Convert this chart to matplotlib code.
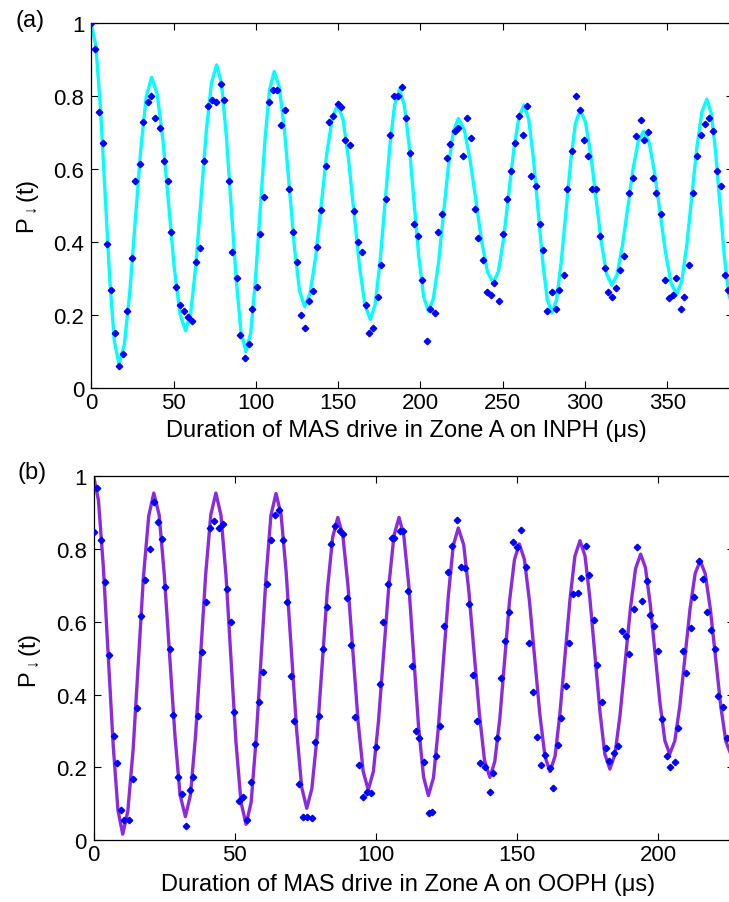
import matplotlib
matplotlib.use("Agg")
import matplotlib.pyplot as plt

plt.rcParams['font.family'] = ['Liberation Sans', 'DejaVu Sans']
plt.rcParams['mathtext.fontset'] = 'custom'
plt.rcParams['mathtext.rm'] = 'Liberation Sans'
plt.rcParams['mathtext.fallback'] = 'stixsans'

######
# measured points, panel (a) INPH
######
t_a = [0.0, 2.2, 4.7, 6.9, 9.7, 12.2, 14.6, 17.0, 19.5, 21.9, 24.7, 26.7, 29.4, 31.6, 34.2, 36.5,
       38.9, 41.9, 44.0, 46.6, 48.6, 51.3, 54.1, 56.1, 59.0, 61.0, 63.6, 66.3, 68.3, 71.1, 73.4,
       76.0, 78.6, 80.9, 83.5, 85.7, 88.3, 90.4, 93.2, 95.6, 97.9, 100.5, 102.7, 105.2, 108.0,
       110.2, 112.9, 115.1, 117.7, 120.4, 122.4, 125.2, 127.3, 129.9, 132.3, 134.8, 137.4, 139.8,
       142.5, 144.5, 147.1, 149.7, 152.0, 154.4, 157.0, 159.5, 161.9, 164.4, 166.8, 169.0, 171.4,
       174.5, 176.3, 178.9, 181.4, 183.8, 186.7, 188.7, 191.5, 193.5, 196.2, 198.4, 201.0, 203.9,
       205.9, 208.7, 210.8, 213.4, 216.2, 218.2, 220.9, 222.9, 225.8, 228.4, 230.6, 233.3, 235.3,
       238.1, 240.6, 243.0, 245.0, 247.6, 250.3, 252.5, 255.2, 257.8, 259.8, 262.5, 264.6, 267.5,
       270.1, 272.4, 274.8, 277.2, 279.8, 282.5, 284.5, 287.1, 289.4, 292.2, 294.8, 296.9, 299.5,
       301.8, 304.4, 306.6, 309.0, 312.1, 313.9, 316.5, 319.0, 321.6, 324.0, 326.5, 329.1, 330.9,
       333.8, 336.2, 338.6, 341.3, 343.5, 346.3, 348.8, 351.2, 353.6, 355.4, 358.3, 360.5, 363.1,
       365.6, 368.0, 370.5, 372.9, 375.4, 378.1, 380.3, 382.7, 385.1, 387.1]
p_a = [1.000, 0.930, 0.756, 0.672, 0.394, 0.268, 0.151, 0.060, 0.094, 0.211, 0.357, 0.568, 0.613,
       0.729, 0.783, 0.802, 0.741, 0.712, 0.622, 0.568, 0.429, 0.277, 0.228, 0.212, 0.194, 0.184,
       0.345, 0.385, 0.622, 0.774, 0.791, 0.783, 0.833, 0.791, 0.568, 0.374, 0.303, 0.144, 0.081,
       0.122, 0.218, 0.277, 0.421, 0.524, 0.783, 0.818, 0.818, 0.721, 0.761, 0.546, 0.429, 0.345,
       0.200, 0.165, 0.239, 0.266, 0.388, 0.489, 0.608, 0.729, 0.747, 0.778, 0.770, 0.679, 0.665,
       0.484, 0.401, 0.372, 0.228, 0.151, 0.165, 0.249, 0.338, 0.517, 0.694, 0.802, 0.802, 0.824,
       0.741, 0.644, 0.450, 0.416, 0.296, 0.129, 0.218, 0.206, 0.429, 0.477, 0.630, 0.670, 0.706,
       0.712, 0.636, 0.741, 0.685, 0.491, 0.412, 0.351, 0.262, 0.256, 0.288, 0.239, 0.421, 0.518,
       0.595, 0.672, 0.747, 0.694, 0.774, 0.582, 0.555, 0.450, 0.378, 0.211, 0.262, 0.218, 0.268,
       0.311, 0.546, 0.651, 0.802, 0.762, 0.679, 0.635, 0.546, 0.546, 0.416, 0.330, 0.262, 0.249,
       0.275, 0.324, 0.361, 0.534, 0.575, 0.692, 0.736, 0.679, 0.701, 0.575, 0.534, 0.477, 0.296,
       0.247, 0.256, 0.303, 0.218, 0.249, 0.338, 0.534, 0.635, 0.694, 0.725, 0.741, 0.706, 0.595,
       0.555, 0.311, 0.268]

# fitted curve (a)
fit_t_a = [0.0, 2.8, 5.6, 8.4, 11.2, 14.0, 16.8, 20.1, 23.4, 26.75, 30.1, 33.4, 36.7,
           40.1, 43.6, 47.0, 50.4, 53.9, 57.3, 60.45, 63.6, 66.75, 69.9, 73.05, 76.2,
           79.2, 82.1, 85.1, 88.1, 91.0, 94.0, 96.9, 99.7, 102.6, 105.5, 108.3, 111.2,
           114.3, 117.4, 120.45, 123.5, 126.6, 129.7, 133.0, 136.4, 139.7, 143.0, 146.4, 149.7,
           153.0, 156.3, 159.65, 163.0, 166.3, 169.6, 172.55, 175.5, 178.45, 181.4, 184.35, 187.3,
           190.2, 193.2, 196.1, 199.0, 202.0, 204.9, 207.9, 211.0, 214.0, 217.0, 220.1, 223.1,
           226.65, 230.2, 233.75, 237.3, 240.85, 244.4, 247.5, 250.6, 253.7, 256.8, 259.9, 263.0,
           265.8, 268.6, 271.45, 274.3, 277.1, 279.9, 282.8, 285.6, 288.5, 291.4, 294.2, 297.1,
           300.3, 303.5, 306.7, 309.9, 313.1, 316.3, 319.5, 322.7, 326.0, 329.2, 332.4, 335.6,
           339.0, 342.3, 345.7, 349.1, 352.4, 355.8, 358.85, 361.9, 364.95, 368.0, 371.05, 374.1,
           376.75, 379.4, 382.05, 384.7, 387.35, 390.0]
fit_p_a = [1.000, 0.937, 0.767, 0.533, 0.300, 0.129, 0.066, 0.119, 0.262, 0.459, 0.655, 0.799, 0.852,
           0.805, 0.678, 0.505, 0.331, 0.204, 0.157, 0.206, 0.339, 0.522, 0.704, 0.837, 0.886,
           0.833, 0.690, 0.493, 0.297, 0.153, 0.100, 0.151, 0.292, 0.484, 0.676, 0.817, 0.868,
           0.825, 0.707, 0.546, 0.384, 0.266, 0.223, 0.260, 0.361, 0.500, 0.638, 0.739, 0.776,
           0.737, 0.629, 0.482, 0.335, 0.227, 0.188, 0.230, 0.346, 0.503, 0.661, 0.776, 0.818,
           0.777, 0.666, 0.514, 0.362, 0.251, 0.210, 0.245, 0.342, 0.475, 0.607, 0.704, 0.739,
           0.709, 0.626, 0.514, 0.401, 0.318, 0.288, 0.321, 0.410, 0.532, 0.654, 0.743, 0.776,
           0.738, 0.634, 0.491, 0.349, 0.244, 0.206, 0.243, 0.345, 0.484, 0.623, 0.725, 0.762,
           0.730, 0.642, 0.522, 0.402, 0.314, 0.282, 0.310, 0.388, 0.493, 0.599, 0.676, 0.704,
           0.674, 0.592, 0.481, 0.369, 0.287, 0.257, 0.293, 0.391, 0.525, 0.658, 0.756, 0.792,
           0.754, 0.649, 0.506, 0.363, 0.258, 0.220]

######
# measured points, panel (b) OOPH
######
t_b = [0.2, 1.2, 2.7, 3.9, 5.4, 7.1, 8.2, 9.8, 10.9, 12.5, 14.1, 15.2, 16.9, 18.1, 19.8, 21.3, 22.7,
       24.2, 25.4, 26.9, 28.0, 29.8, 31.2, 32.6, 34.1, 35.3, 37.1, 38.5, 39.7, 41.3, 42.6, 44.3,
       45.7, 47.1, 48.5, 49.8, 51.4, 53.0, 54.3, 55.9, 57.2, 58.7, 59.9, 61.3, 62.8, 64.1, 65.8,
       67.1, 68.4, 69.9, 71.1, 72.9, 74.0, 75.7, 77.3, 78.4, 79.9, 81.1, 82.8, 84.1, 85.5, 87.2,
       88.5, 89.9, 91.2, 92.7, 94.1, 95.5, 97.0, 98.3, 99.9, 101.5, 102.6, 104.3, 105.6, 106.5,
       108.5, 109.6, 111.5, 112.7, 114.2, 115.4, 117.0, 118.8, 120.0, 121.3, 122.7, 124.2, 125.7,
       127.1, 128.6, 130.2, 131.6, 133.1, 134.3, 135.7, 137.0, 138.6, 140.3, 141.4, 142.9, 144.2,
       145.9, 147.0, 148.5, 149.9, 151.4, 153.1, 154.4, 155.6, 157.2, 158.5, 160.0, 161.7, 162.9,
       164.4, 165.6, 167.4, 168.4, 170.0, 171.5, 172.7, 174.5, 175.6, 177.3, 178.5, 180.0, 181.6,
       182.7, 184.2, 185.7, 187.2, 188.6, 189.8, 191.5, 192.6, 194.3, 195.9, 197.1, 198.6, 200.1,
       201.5, 203.0, 204.2, 206.0, 207.2, 208.7, 209.9, 211.5, 212.8, 214.5, 216.0, 217.2, 218.6,
       220.1, 221.3, 222.9, 224.3]
p_b = [0.846, 0.969, 0.825, 0.709, 0.508, 0.287, 0.212, 0.082, 0.055, 0.055, 0.169, 0.364, 0.617,
       0.716, 0.800, 0.930, 0.875, 0.828, 0.696, 0.525, 0.345, 0.172, 0.126, 0.038, 0.137, 0.172,
       0.342, 0.516, 0.654, 0.859, 0.878, 0.858, 0.870, 0.690, 0.599, 0.352, 0.107, 0.119, 0.055,
       0.159, 0.263, 0.380, 0.463, 0.703, 0.824, 0.895, 0.908, 0.826, 0.654, 0.452, 0.326, 0.153,
       0.063, 0.063, 0.061, 0.270, 0.342, 0.525, 0.642, 0.815, 0.863, 0.850, 0.841, 0.666, 0.535,
       0.337, 0.206, 0.119, 0.131, 0.128, 0.255, 0.428, 0.599, 0.704, 0.830, 0.830, 0.850, 0.850,
       0.686, 0.478, 0.300, 0.280, 0.215, 0.073, 0.076, 0.230, 0.314, 0.589, 0.736, 0.808, 0.880,
       0.750, 0.748, 0.649, 0.454, 0.328, 0.212, 0.201, 0.131, 0.185, 0.280, 0.445, 0.548, 0.626,
       0.819, 0.805, 0.852, 0.750, 0.541, 0.406, 0.284, 0.206, 0.234, 0.197, 0.144, 0.262, 0.336,
       0.424, 0.541, 0.676, 0.679, 0.720, 0.809, 0.729, 0.605, 0.481, 0.379, 0.253, 0.218, 0.238,
       0.259, 0.574, 0.562, 0.512, 0.635, 0.807, 0.657, 0.712, 0.620, 0.589, 0.519, 0.333, 0.232,
       0.200, 0.215, 0.309, 0.519, 0.459, 0.584, 0.669, 0.766, 0.718, 0.627, 0.577, 0.525, 0.395,
       0.365, 0.281]

# fitted curve (b)
fit_t_b = [0.0, 1.7, 3.4, 5.15, 6.9, 8.6, 10.3, 12.1, 14.0, 15.8, 17.6, 19.5, 21.3,
           23.2, 25.0, 26.9, 28.8, 30.6, 32.5, 34.3, 36.1, 37.9, 39.7, 41.5, 43.3,
           45.1, 46.9, 48.65, 50.4, 52.2, 54.0, 55.8, 57.5, 59.3, 61.1, 62.8, 64.6,
           66.4, 68.2, 70.05, 71.9, 73.7, 75.5, 77.3, 79.2, 81.0, 82.8, 84.7, 86.5,
           88.3, 90.1, 91.9, 93.7, 95.5, 97.3, 99.1, 100.9, 102.75, 104.6, 106.4, 108.2,
           109.9, 111.7, 113.4, 115.1, 116.9, 118.6, 120.4, 122.1, 123.9, 125.7, 127.4, 129.2,
           131.1, 132.9, 134.8, 136.7, 138.5, 140.4, 142.1, 143.9, 145.6, 147.3, 149.1, 150.8,
           152.6, 154.4, 156.25, 158.1, 159.9, 161.7, 163.5, 165.2, 167.0, 168.8, 170.5, 172.3,
           174.1, 175.8, 177.6, 179.4, 181.1, 182.9, 184.7, 186.5, 188.35, 190.2, 192.0, 193.8,
           195.5, 197.2, 198.95, 200.7, 202.4, 204.1, 205.9, 207.7, 209.5, 211.3, 213.1, 214.9,
           216.7, 218.5, 220.35, 222.2, 224.0, 225.8]
fit_p_b = [1.000, 0.934, 0.754, 0.508, 0.262, 0.082, 0.016, 0.079, 0.251, 0.485, 0.720, 0.891, 0.954,
           0.894, 0.732, 0.509, 0.287, 0.124, 0.064, 0.124, 0.287, 0.509, 0.732, 0.894, 0.954,
           0.893, 0.726, 0.499, 0.271, 0.104, 0.043, 0.104, 0.271, 0.498, 0.726, 0.892, 0.953,
           0.895, 0.737, 0.520, 0.304, 0.145, 0.087, 0.141, 0.287, 0.487, 0.687, 0.833, 0.887,
           0.837, 0.700, 0.513, 0.325, 0.188, 0.138, 0.188, 0.325, 0.513, 0.700, 0.837, 0.887,
           0.836, 0.696, 0.505, 0.313, 0.173, 0.122, 0.171, 0.306, 0.490, 0.674, 0.809, 0.858,
           0.812, 0.687, 0.515, 0.344, 0.218, 0.172, 0.215, 0.333, 0.493, 0.654, 0.771, 0.814,
           0.772, 0.658, 0.501, 0.345, 0.230, 0.188, 0.231, 0.347, 0.506, 0.664, 0.780, 0.823,
           0.781, 0.666, 0.509, 0.352, 0.237, 0.195, 0.235, 0.343, 0.491, 0.638, 0.746, 0.786,
           0.749, 0.649, 0.511, 0.374, 0.273, 0.236, 0.272, 0.369, 0.502, 0.635, 0.732, 0.768,
           0.732, 0.635, 0.502, 0.368, 0.271, 0.235]

xticks_a = [0, 50, 100, 150, 200, 250, 300, 350]
xticks_b = [0, 50, 100, 150, 200]
yticks = [0, 0.2, 0.4, 0.6, 0.8, 1]
ytick_labels = ['0', '0.2', '0.4', '0.6', '0.8', '1']

FS_TICK = 16
FS_LABEL = 17


#####
# one panel: fit line plus measured points
#####
def draw_panel(ax, t, p, fit_t, fit_p, fit_color, xmax, xticks):
    ax.plot(fit_t, fit_p, color=fit_color, lw=2.4, zorder=2)
    ax.plot(t, p, ls='none', marker='D', ms=3.3, color='#0000ff', mec='#0000ff', zorder=3)
    ax.set_xlim(0, xmax)
    ax.set_ylim(0, 1)
    ax.set_xticks(xticks)
    ax.set_xticklabels([str(x) for x in xticks])
    ax.set_yticks(yticks)
    ax.set_yticklabels(ytick_labels)
    ax.tick_params(direction='in', top=True, right=True, length=5, width=0.8, labelsize=FS_TICK)
    ax.tick_params(axis='x', pad=3)
    ax.tick_params(axis='y', pad=5)
    for s in ax.spines.values():
        s.set_linewidth(0.9)


fig = plt.figure(figsize=(7.29, 9.03), dpi=100)

ax_a = fig.add_axes([0.1252, 0.5692, 0.8803, 0.4039])
draw_panel(ax_a, t_a, p_a, fit_t_a, fit_p_a, '#00ffff', 390, xticks_a)

ax_b = fig.add_axes([0.1285, 0.0687, 0.8788, 0.4027])
draw_panel(ax_b, t_b, p_b, fit_t_b, fit_p_b, '#8a2be2', 227, xticks_b)

# labels in pixel positions of the figure
W, H = 729.0, 903.0
ylab = r'$\mathregular{P_{\downarrow}(t)}$'
fig.text(30 / W, 1 - 21 / H, '(a)', fontsize=FS_LABEL, ha='center', va='center')
fig.text(32 / W, 1 - 473 / H, '(b)', fontsize=FS_LABEL, ha='center', va='center')
fig.text(28 / W, 1 - 207 / H, ylab, fontsize=FS_LABEL, rotation=90, ha='center', va='center')
fig.text(30 / W, 1 - 661 / H, ylab, fontsize=FS_LABEL, rotation=90, ha='center', va='center')
fig.text(406.5 / W, 1 - 431 / H, 'Duration of MAS drive in Zone A on INPH (\u03bcs)',
         fontsize=FS_LABEL, ha='center', va='center')
fig.text(408.5 / W, 1 - 885 / H, 'Duration of MAS drive in Zone A on OOPH (\u03bcs)',
         fontsize=FS_LABEL, ha='center', va='center')

fig.savefig('out.png', dpi=100)
